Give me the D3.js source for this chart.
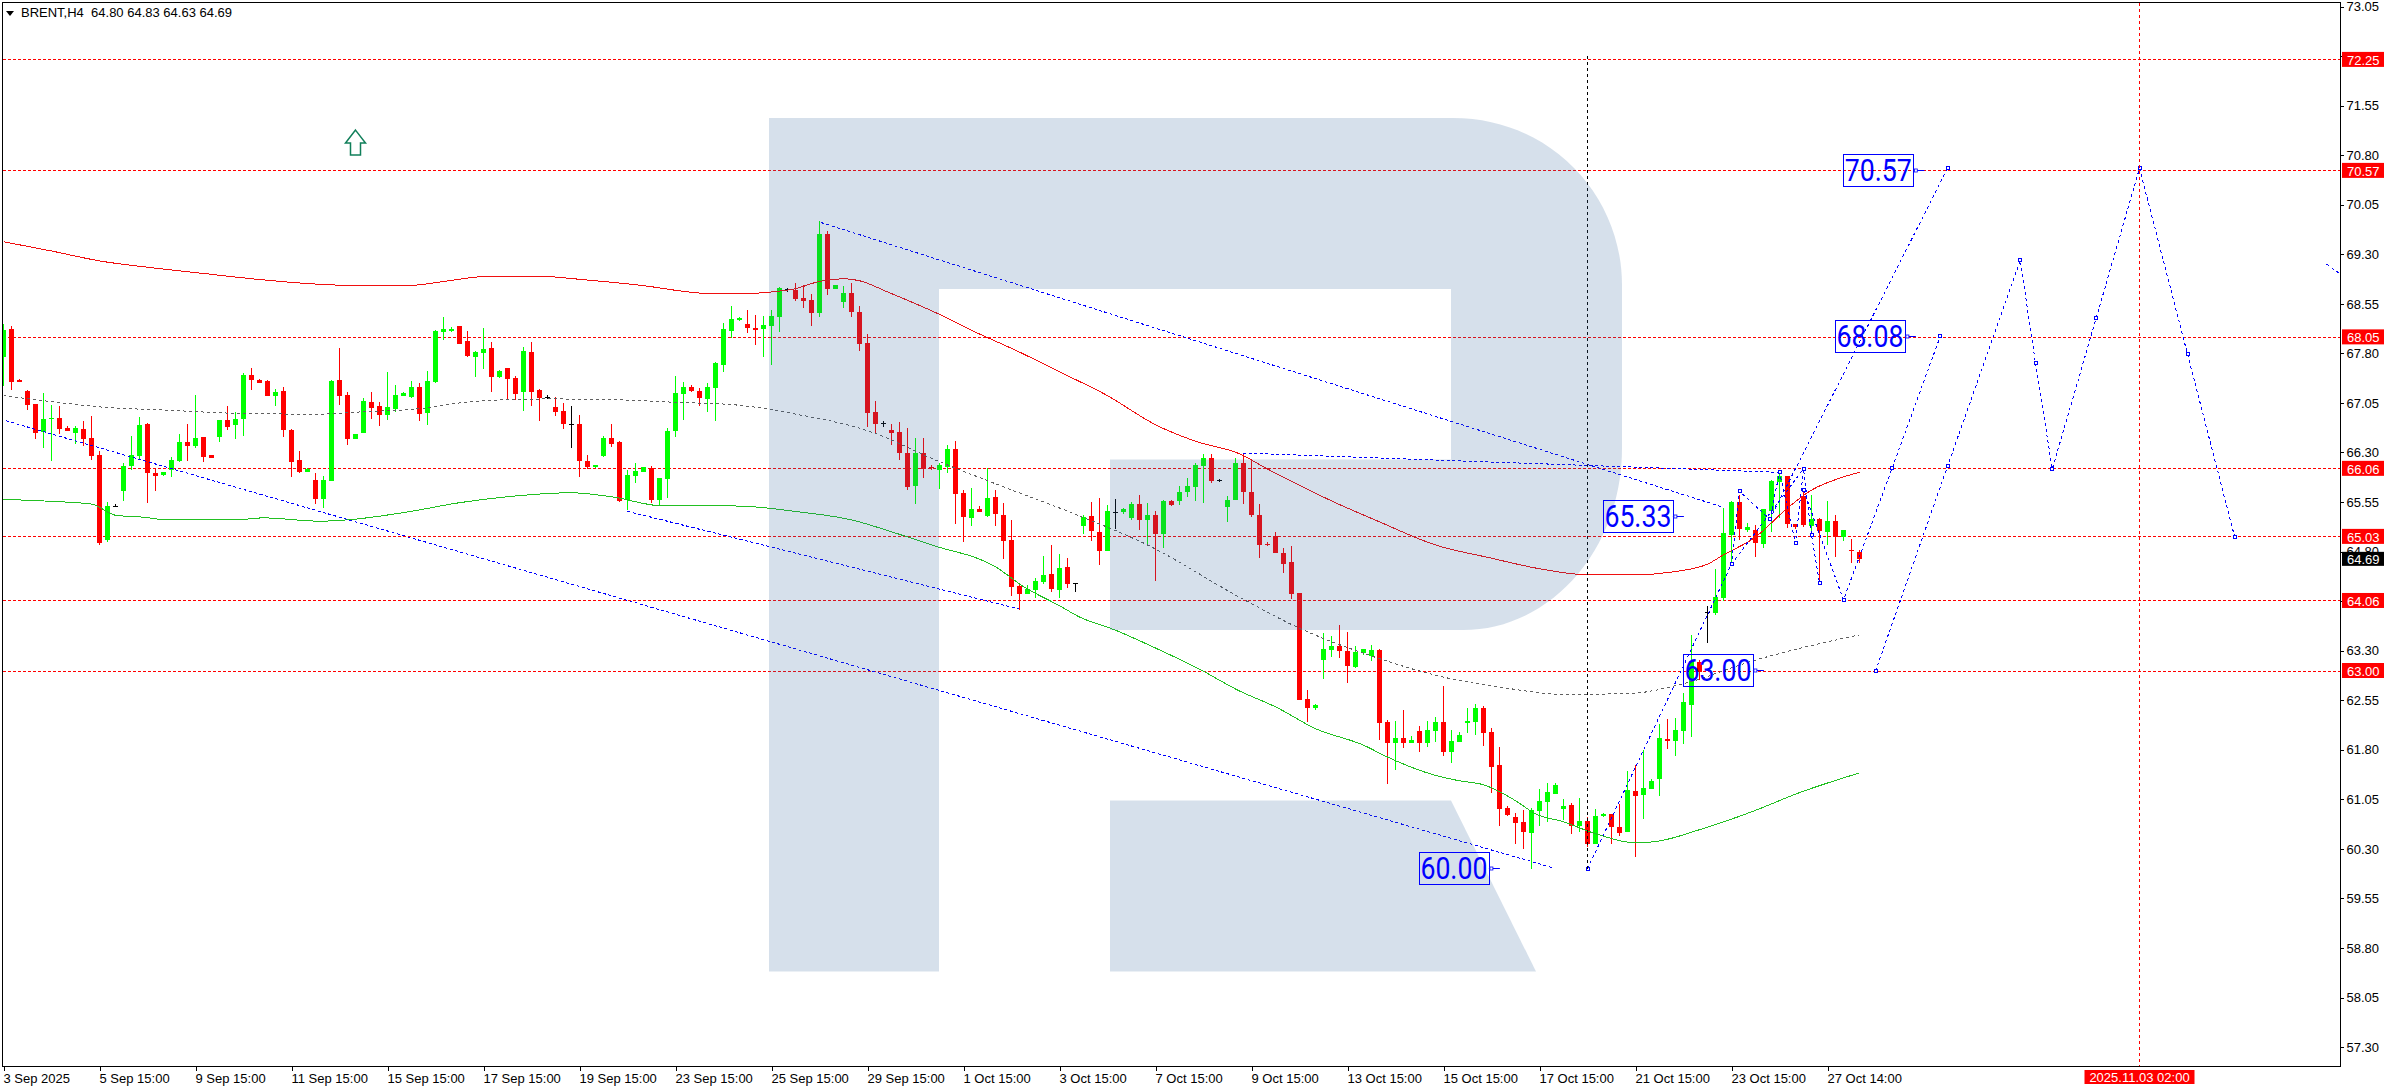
<!DOCTYPE html>
<html><head><meta charset="utf-8">
<script src="https://cdn.jsdelivr.net/npm/d3@7"></script>
<style>
html,body{margin:0;padding:0;background:#fff;overflow:hidden}
text{font-family:"Liberation Sans",Arial,sans-serif}
</style></head><body><svg id="c" width="2390" height="1090"></svg>
<script>
const opens=[67.75,68.17,67.40,67.23,67.03,66.61,66.81,66.82,66.67,66.60,
66.66,66.52,66.26,64.97,65.49,65.72,66.10,66.25,66.73,65.99,
65.96,66.04,66.17,66.46,66.40,66.53,66.26,66.53,66.79,66.72,
66.81,67.47,67.40,67.38,67.16,67.23,66.64,66.19,66.00,65.88,
65.60,65.87,67.40,67.17,66.50,66.60,67.06,67.00,66.87,66.96,
67.16,67.14,67.29,66.90,67.37,68.12,68.14,68.22,67.99,67.75,
67.81,67.88,67.44,67.58,67.43,67.22,67.82,67.25,67.14,66.99,
66.93,66.73,66.73,66.17,66.08,66.25,66.52,66.46,65.58,65.94,
66.00,66.06,65.58,65.90,66.63,67.19,67.29,67.23,67.11,67.28,
67.62,68.14,68.31,68.25,68.19,68.17,68.21,68.35,68.78,68.76,
68.64,68.61,68.41,69.61,68.77,68.58,68.71,68.43,67.96,66.91,
66.74,66.64,66.61,66.29,65.79,66.29,66.08,66.04,66.08,66.35,
65.69,65.31,65.45,65.34,65.63,65.35,64.98,64.28,64.16,64.22,
64.34,64.46,64.22,64.57,64.32,65.19,65.34,65.10,64.81,65.40,
65.40,65.31,65.52,65.28,65.35,65.07,65.57,65.57,65.70,65.78,
66.10,66.22,65.89,65.48,65.58,66.14,65.70,65.35,64.92,65.03,
64.78,64.64,64.17,62.57,62.43,63.16,63.31,63.37,63.30,63.05,
63.27,63.22,63.31,62.22,61.90,61.98,61.90,62.08,61.90,62.08,
62.22,61.77,61.92,62.20,62.22,62.43,62.07,61.57,60.92,60.78,
60.71,60.54,60.87,61.01,61.13,60.90,60.96,60.65,60.72,60.37,
60.80,60.83,60.63,60.55,61.18,61.12,61.21,61.36,61.96,61.93,
62.08,62.48,63.13,63.88,63.87,64.10,65.05,65.55,65.13,65.13,
64.91,65.41,65.85,65.94,65.22,65.64,65.19,65.29,65.10,65.26,
65.02,64.82,64.80];
const highs=[68.24,68.22,67.41,67.25,67.04,67.20,67.02,67.00,66.70,66.70,
66.78,66.85,66.32,65.55,65.52,66.14,66.55,66.84,66.74,66.07,
66.00,66.23,66.58,66.73,67.17,66.54,66.26,66.79,67.00,66.91,
67.50,67.58,67.41,67.40,67.26,67.29,66.66,66.32,66.06,65.99,
65.94,67.40,67.88,67.22,66.58,67.13,67.22,67.06,67.52,67.32,
67.22,67.38,67.35,67.53,68.15,68.35,68.20,68.22,68.14,67.84,
68.18,67.97,67.55,67.58,67.46,67.90,67.97,67.26,67.17,67.14,
67.05,67.00,66.87,66.26,66.11,66.55,66.73,66.47,66.03,66.14,
66.08,66.10,65.91,66.67,67.46,67.37,67.32,67.28,67.35,67.67,
68.26,68.52,68.35,68.46,68.38,68.37,68.46,68.81,68.79,68.87,
68.84,68.70,69.80,69.65,68.84,68.82,68.87,68.52,68.09,67.08,
66.78,66.73,66.76,66.67,66.52,66.52,66.11,66.14,66.41,66.47,
65.73,65.76,65.49,66.07,65.73,65.54,65.28,64.32,64.30,64.40,
64.73,64.90,64.76,64.70,64.32,65.35,65.55,65.61,65.51,65.60,
65.46,65.55,65.66,65.54,65.41,65.58,65.58,65.79,65.91,66.14,
66.28,66.28,65.90,65.64,66.22,66.29,66.19,65.52,64.94,65.10,
64.85,64.88,64.17,62.70,62.49,63.57,63.52,63.69,63.58,63.37,
63.33,63.39,63.33,62.25,62.24,62.40,62.01,62.16,62.24,62.30,
62.77,62.10,62.07,62.43,62.49,62.46,62.13,61.84,60.95,60.84,
60.89,60.92,61.21,61.30,61.30,61.06,60.99,61.07,60.79,60.90,
60.84,60.83,60.98,61.48,61.57,61.80,61.36,62.19,62.27,62.28,
62.66,63.54,63.16,63.98,64.54,65.46,65.57,65.66,65.23,65.20,
65.44,65.88,66.02,65.94,65.22,65.73,65.66,65.31,65.57,65.35,
65.13,64.99,64.83];
const lows=[67.31,67.25,67.37,66.94,66.51,66.37,66.17,66.58,66.63,66.43,
66.40,66.19,64.90,64.95,65.48,65.57,66.04,66.19,65.54,65.72,
65.94,65.93,66.16,66.17,66.37,66.16,66.22,66.46,66.64,66.51,
66.55,67.25,67.35,67.16,67.00,66.53,65.93,65.99,66.00,65.52,
65.46,65.87,67.02,66.41,66.50,66.60,66.81,66.70,66.79,66.91,
67.16,67.13,66.78,66.72,67.35,68.00,68.12,67.94,67.75,67.44,
67.56,67.22,67.43,67.09,67.09,66.93,67.00,66.78,67.11,66.85,
66.66,66.37,65.93,66.05,66.07,66.23,66.38,65.55,65.43,65.84,
66.00,65.53,65.51,65.61,66.53,66.79,67.22,67.00,66.91,66.78,
67.52,68.03,68.29,68.11,67.93,67.75,67.62,68.12,68.73,68.59,
68.49,68.21,68.35,68.68,68.77,68.49,68.35,67.84,66.69,66.59,
66.69,66.41,66.19,65.73,65.52,65.91,66.04,65.75,65.99,65.22,
64.95,65.19,65.40,65.32,65.19,64.69,64.13,63.92,64.16,64.10,
64.31,64.19,64.10,64.25,64.19,65.07,64.96,64.60,64.81,65.14,
65.37,65.28,65.13,64.90,64.36,64.85,65.49,65.51,65.63,65.57,
65.54,65.84,65.85,65.25,65.58,65.52,65.32,64.70,64.88,64.78,
64.47,64.08,62.55,62.22,62.40,62.87,63.20,63.19,62.81,63.04,
63.24,63.14,61.95,61.28,61.49,61.83,61.90,61.77,61.84,61.92,
61.71,61.60,61.92,62.05,62.03,61.86,61.15,60.65,60.80,60.37,
60.30,59.99,60.65,60.71,61.13,60.74,60.53,60.56,60.33,60.37,
60.79,60.37,60.49,60.55,60.18,60.75,61.21,61.10,61.81,61.71,
61.89,62.00,62.86,63.41,63.84,64.05,64.64,64.98,65.10,64.72,
64.85,65.10,65.31,65.16,65.14,65.17,65.08,64.37,64.90,64.72,
64.96,64.63,64.63];
const closes=[68.15,67.37,67.37,67.02,66.60,66.81,66.82,66.66,66.63,66.67,
66.51,66.25,64.93,65.49,65.49,66.10,66.26,66.72,65.99,65.94,
66.00,66.19,66.46,66.40,66.52,66.23,66.22,66.79,66.69,66.81,
67.47,67.40,67.35,67.16,67.22,66.64,66.16,66.00,66.05,65.60,
65.88,67.38,67.16,66.50,66.58,67.08,66.97,66.87,66.99,67.17,
67.20,67.29,66.88,67.38,68.14,68.17,68.17,67.94,67.76,67.82,
67.87,67.44,67.53,67.41,67.19,67.84,67.22,67.13,67.14,66.91,
66.73,66.73,66.17,66.08,66.11,66.52,66.43,65.57,65.96,66.02,
66.08,65.58,65.91,66.63,67.20,67.29,67.23,67.12,67.29,67.65,
68.17,68.32,68.34,68.19,68.15,68.23,68.37,68.79,68.78,68.62,
68.59,68.41,69.61,68.77,68.84,68.71,68.43,67.94,66.90,66.73,
66.74,66.59,66.29,65.78,66.29,66.05,66.07,66.11,66.35,65.67,
65.32,65.45,65.40,65.61,65.37,64.96,64.26,64.16,64.23,64.36,
64.45,64.23,64.55,64.31,64.32,65.32,65.11,64.81,65.41,65.40,
65.45,65.52,65.28,65.35,65.07,65.57,65.51,65.70,65.79,66.11,
66.22,65.87,65.89,65.58,66.14,65.70,65.35,64.90,64.90,64.78,
64.61,64.16,62.55,62.43,62.48,63.33,63.37,63.30,63.07,63.28,
63.33,63.31,62.20,61.90,61.98,61.90,61.95,61.90,62.10,62.22,
61.77,61.93,62.03,62.24,62.43,62.05,61.54,60.90,60.81,60.69,
60.56,60.89,61.03,61.16,61.27,60.95,60.65,60.72,60.37,60.80,
60.83,60.63,60.54,61.19,61.10,61.22,61.33,61.98,61.93,62.10,
62.52,63.14,62.98,63.88,64.11,65.08,65.55,65.14,65.17,64.93,
65.44,65.87,65.94,65.22,65.17,65.20,65.29,65.11,65.26,65.02,
65.13,64.81,64.69];

const upperBand=[[0,69.49],[6,69.35],[12,69.20],[19,69.09],[25,69.01],[31,68.93],[39,68.85],[43,68.83],[51,68.83],[54.5,68.88],[61,68.97],[66.5,68.97],[73,68.91],[79,68.84],[89,68.70],[91.5,68.70],[96,68.73],[99,68.78],[102,68.89],[105,68.93],[107,68.90],[110.5,68.73],[117,68.39],[121,68.15],[127,67.82],[131.5,67.55],[138,67.16],[144,66.72],[149,66.47],[154.5,66.28],[158,66.05],[166.5,65.54],[172,65.25],[179,64.90],[186,64.70],[192,64.54],[198,64.45],[204,64.45],[208.5,64.49],[213,64.61],[215,64.75],[219,65.02],[223,65.46],[226,65.73],[230,65.93],[232,66.00]];
const lowerBand=[[0,65.59],[6,65.56],[11,65.52],[14,65.35],[17.5,65.32],[20.5,65.28],[29,65.28],[32.5,65.31],[39.5,65.26],[43,65.28],[50.5,65.40],[57,65.54],[63,65.63],[71,65.69],[76,65.63],[82.5,65.49],[91.5,65.49],[99.5,65.40],[106,65.28],[111,65.10],[116,64.90],[124,64.57],[127.5,64.27],[132,63.98],[134.5,63.81],[139,63.61],[144,63.34],[149.5,63.02],[154.5,62.69],[159,62.45],[164,62.12],[170,61.87],[173,61.69],[178.5,61.43],[182,61.33],[185,61.27],[189,61.03],[191.5,60.83],[195,60.71],[199,60.53],[204,60.39],[207,60.42],[212,60.59],[218.5,60.86],[224.7,61.16],[232,61.45]];
const midBand=[[0,67.16],[6,67.07],[12,66.99],[20.5,66.94],[30,66.89],[39.5,66.88],[44,66.91],[52.5,66.97],[57,67.05],[61,67.09],[68.5,67.11],[76,67.10],[84,67.06],[91.5,67.02],[99.5,66.87],[108,66.63],[117,66.16],[125,65.78],[134.5,65.34],[143,64.90],[154.5,64.11],[162,63.64],[171,63.22],[180,62.90],[187.5,62.74],[195,62.64],[203,62.65],[210,62.80],[218.5,63.14],[224.7,63.34],[232,63.54]];
const trendLines=[[[0.3,66.78],[193.8,60.01]],[[78,65.41],[127,63.93]],[[102.2,69.78],[215,65.47]],[[155,66.29],[222,66.00]]];
const forecastPaths=[
[[198,60.00],[216,64.61],[217,65.71],[220.8,65.29],[222,66.00],[224,64.93],[225,66.05],[226,65.05],[227,64.33]],
[[216,64.61],[225,66.05]],
[[220.8,65.29],[243,70.60]],
[[225,65.73],[230,64.07],[236.1,66.07],[242.1,68.06]],
[[234,62.99],[243,66.09],[252.1,69.21],[254,67.65],[256.1,66.05],[261.6,68.34],[267,70.60],[273,67.79],[278.9,65.02]]];
const forecastStub=[[290.4,69.15],[292,69.01]];
const levels=[72.25,70.57,68.05,66.06,65.03,64.06,63.00];
const levelLabels=["72.25","70.57","68.05","66.06","65.03","64.06","63.00"];
const boxText=["60.00","65.33","63.00","70.57","68.08"];
const boxBar=[181.3,204.3,214.3,234.35,233.3];
const boxPrice=[60.01,65.34,63.01,70.58,68.07];
const priceTicks=[73.05,72.30,71.55,70.80,70.05,69.30,68.55,67.80,67.05,66.30,65.55,64.80,64.05,63.30,62.55,61.80,61.05,60.30,59.55,58.80,58.05,57.30];
const timeTickBars=[0,12,24,36,48,60,72,84,96,108,120,132,144,156,168,180,192,204,216,228];
const timeTickLabels=["3 Sep 2025","5 Sep 15:00","9 Sep 15:00","11 Sep 15:00","15 Sep 15:00","17 Sep 15:00","19 Sep 15:00","23 Sep 15:00","25 Sep 15:00","29 Sep 15:00","1 Oct 15:00","3 Oct 15:00","7 Oct 15:00","9 Oct 15:00","13 Oct 15:00","15 Oct 15:00","17 Oct 15:00","21 Oct 15:00","23 Oct 15:00","27 Oct 14:00"];
const legendText="BRENT,H4  64.80 64.83 64.63 64.69";
const lastPrice=64.69, cursorBar=267, cursorLabel="2025.11.03 02:00", pivotBar=198, pivotTop=72.30, pivotBottom=60.00;
const arrowBar=44, arrowPrice=71.18;

const plotL=2.5,plotR=2340.5,plotT=2.5,plotB=1066.5;
const svg=d3.select("#c");
const x=d3.scaleLinear().domain([0,1]).range([3.5,11.5]);
const y=d3.scaleLinear().domain([63,72.25]).range([670.5,59.4]);
const clip=svg.append("defs").append("clipPath").attr("id","plot");
clip.append("rect").attr("x",plotL).attr("y",plotT).attr("width",plotR-plotL).attr("height",plotB-plotT);
const g=svg.append("g").attr("clip-path","url(#plot)");

g.selectAll(".lvl").data(levels).join("line").attr("x1",plotL).attr("x2",plotR)
 .attr("y1",d=>Math.round(y(d))+.5).attr("y2",d=>Math.round(y(d))+.5)
 .attr("stroke","#ff0000").attr("stroke-dasharray","3 2").attr("shape-rendering","crispEdges");

const bars=d3.range(opens.length);
const col=i=>closes[i]>opens[i]?"#00ff00":closes[i]<opens[i]?"#ff0000":"#000000";
const cg=g.append("g").attr("shape-rendering","crispEdges");
cg.selectAll(".w").data(bars).join("line").attr("x1",x).attr("x2",x)
 .attr("y1",i=>y(highs[i])).attr("y2",i=>y(lows[i])).attr("stroke",col);
cg.selectAll(".b").data(bars).join("rect").attr("x",i=>x(i)-2.5).attr("width",5)
 .attr("y",i=>Math.min(y(opens[i]),y(closes[i])))
 .attr("height",i=>Math.max(1,Math.abs(y(opens[i])-y(closes[i])))).attr("fill",col);

const line=d3.line().x(d=>x(d[0])).y(d=>y(d[1])).curve(d3.curveMonotoneX);
g.append("path").attr("d",line(upperBand)).attr("fill","none").attr("stroke","#f01010").attr("stroke-width",1).attr("shape-rendering","crispEdges");
g.append("path").attr("d",line(lowerBand)).attr("fill","none").attr("stroke","#22c022").attr("stroke-width",1).attr("shape-rendering","crispEdges");
g.append("path").attr("d",line(midBand)).attr("fill","none").attr("stroke","#606060").attr("stroke-width",1).attr("stroke-dasharray","3 3").attr("shape-rendering","crispEdges");

const straight=d3.line().x(d=>x(d[0])).y(d=>y(d[1]));
g.selectAll(".t").data(trendLines).join("path").attr("d",straight).attr("fill","none")
 .attr("stroke","#0000ff").attr("stroke-width",1).attr("stroke-dasharray","3 2.5").attr("shape-rendering","crispEdges");
g.selectAll(".f").data(forecastPaths.concat([forecastStub])).join("path").attr("d",straight).attr("fill","none")
 .attr("stroke","#0000ff").attr("stroke-width",1).attr("stroke-dasharray","3 3").attr("shape-rendering","crispEdges");
const pts=forecastPaths.flat();
g.selectAll(".m").data(pts).join("rect").attr("x",d=>Math.round(x(d[0]))-1.5).attr("y",d=>Math.round(y(d[1]))-1.5)
 .attr("width",3).attr("height",3).attr("fill","#fff").attr("stroke","#0000ff").attr("stroke-width",1).attr("shape-rendering","crispEdges");

g.append("line").attr("x1",x(pivotBar)).attr("x2",x(pivotBar)).attr("y1",y(pivotTop)).attr("y2",y(pivotBottom))
 .attr("stroke","#000").attr("stroke-dasharray","3 3").attr("shape-rendering","crispEdges");
g.append("line").attr("x1",x(cursorBar)).attr("x2",x(cursorBar)).attr("y1",plotT).attr("y2",plotB)
 .attr("stroke","#ff0000").attr("stroke-dasharray","3 3").attr("shape-rendering","crispEdges");

const logo=svg.append("g").attr("fill","rgb(50,100,155)").attr("fill-opacity",.2);
logo.append("path").attr("d","M769,118 H1453 C1550,118 1622,195 1622,285 V448 C1622,550 1550,630 1463,630 H1110 V459.5 H1451 V289 H939 V971.5 H769 Z");
logo.append("path").attr("d","M1110,800.5 H1451 L1536,971.5 H1110 Z");

boxText.forEach((t,k)=>{
 const cx=x(boxBar[k]), cy=y(boxPrice[k]);
 svg.append("rect").attr("x",Math.round(cx-35)+.5).attr("y",Math.round(cy-16)+.5).attr("width",70).attr("height",32)
  .attr("fill","none").attr("stroke","#0000ff").attr("stroke-width",1);
 svg.append("text").attr("x",cx).attr("y",cy+11).attr("text-anchor","middle").attr("fill","#0000ff")
  .style("font-family","Roboto").style("font-weight",400).attr("font-size",31)
  .attr("textLength",67).attr("lengthAdjust","spacingAndGlyphs").text(t);
 svg.append("line").attr("x1",cx+35).attr("x2",cx+46).attr("y1",Math.round(cy)+.5).attr("y2",Math.round(cy)+.5).attr("stroke","#0000ff");
 svg.append("rect").attr("x",cx+36).attr("y",Math.round(cy)-1).attr("width",3).attr("height",3).attr("fill","#fff").attr("stroke","#0000ff").attr("stroke-width",.8);
});

svg.append("path").attr("transform",`translate(${x(arrowBar)},${y(arrowPrice)})`)
 .attr("d",d3.line()([[0,0],[10,13],[5,13],[5,25],[-5,25],[-5,13],[-10,13]])+"Z")
 .attr("fill","#fff").attr("stroke","#107f5a").attr("stroke-width",1.5);

svg.append("rect").attr("x",plotL).attr("y",plotT).attr("width",plotR-plotL).attr("height",plotB-plotT)
 .attr("fill","none").attr("stroke","#000").attr("stroke-width",1).attr("shape-rendering","crispEdges");

const yAxis=d3.axisRight(y).tickValues(priceTicks).tickSize(3).tickPadding(3).tickFormat(d3.format(".2f"));
const ya=svg.append("g").attr("transform",`translate(${plotR},0)`).call(yAxis);
const xAxis=d3.axisBottom(x).tickValues(timeTickBars).tickSize(4).tickPadding(3).tickFormat((d,i)=>timeTickLabels[i]);
const xa=svg.append("g").attr("transform",`translate(0,${plotB})`).call(xAxis);
[ya,xa].forEach(a=>{a.select(".domain").remove();a.selectAll("text").attr("fill","#000").style("font-family","'Liberation Sans'").style("font-size","13px");a.selectAll("line").attr("stroke","#000").attr("shape-rendering","crispEdges");});
xa.selectAll("text").attr("text-anchor","start").attr("x",-0.5);

levels.forEach((v,k)=>{
 svg.append("rect").attr("x",plotR+1.5).attr("y",y(v)-7.5).attr("width",42).attr("height",15).attr("fill","#ff0000");
 svg.append("text").attr("x",plotR+6.5).attr("y",y(v)+5.5).attr("fill","#fff").attr("font-size",13).text(levelLabels[k]);
});
svg.append("rect").attr("x",plotR+1.5).attr("y",y(lastPrice)-7).attr("width",42).attr("height",14).attr("fill","#000");
svg.append("text").attr("x",plotR+6.5).attr("y",y(lastPrice)+5).attr("fill","#fff").attr("font-size",13).text(d3.format(".2f")(lastPrice));
svg.append("rect").attr("x",x(cursorBar)-55).attr("y",1070).attr("width",110).attr("height",14).attr("fill","#ff0000");
svg.append("text").attr("x",x(cursorBar)).attr("y",1082).attr("text-anchor","middle").attr("fill","#fff").attr("font-size",13).text(cursorLabel);

svg.append("path").attr("d",d3.line()([[6,11],[14,11],[10,16]])+"Z").attr("fill","#000");
svg.append("text").attr("x",21).attr("y",17).attr("fill","#000").attr("font-size",13).style("white-space","pre").text(legendText);
</script></body></html>
